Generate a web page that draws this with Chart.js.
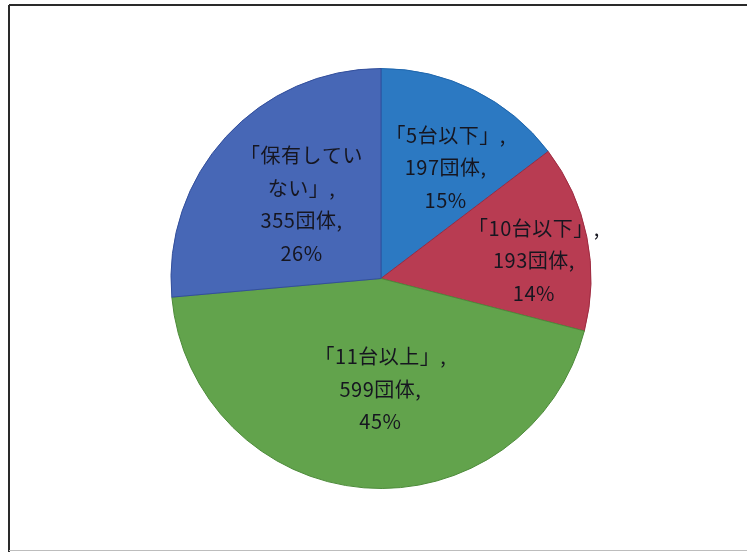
<!DOCTYPE html>
<html lang="ja">
<head>
<meta charset="utf-8">
<title>保有台数別の団体数</title>
<script src="https://cdn.jsdelivr.net/npm/chart.js@4/dist/chart.umd.min.js"></script>
<style>
  html, body { margin: 0; padding: 0; background: #ffffff; }
  #wrap { width: 747px; height: 552px; }
</style>
</head>
<body>
<div id="wrap"><canvas id="pie" width="747" height="552"></canvas></div>
<script>
// Holdings categories (clockwise from 12 o'clock) and number of organisations
const categories = ['5台以下', '10台以下', '11台以上', '保有してい\nない'];
const counts = [197, 193, 599, 355];
const unit = '団体';

const sliceColors = ['#2c79c2', '#b83c52', '#62a34c', '#4767b6'];
const edgeColors = ['#1f66ad', '#9e2a40', '#4d8b3a', '#334f9c'];
// label block nudges relative to each slice's mid-radius point
const labelShift = [[18, -17], [50, 3], [8, 6], [-2, -3]];

const total = counts.reduce((a, b) => a + b, 0);

function labelLines(i) {
  const name = categories[i].split('\n');
  const lines = name.map((s, k) => (k === 0 ? '「' : '') + s);
  lines[lines.length - 1] += '」,';
  lines.push(counts[i] + unit + ',');
  lines.push(Math.round(counts[i] / total * 100) + '%');
  return lines;
}

const framePlugin = {
  id: 'frame',
  beforeDraw(chart) {
    const ctx = chart.ctx;
    ctx.save();
    ctx.fillStyle = '#ffffff';
    ctx.fillRect(0, 0, chart.width, chart.height);
    ctx.strokeStyle = '#2a2a2a';
    ctx.lineWidth = 2;
    ctx.beginPath();
    ctx.moveTo(9, 5); ctx.lineTo(chart.width, 5);
    ctx.moveTo(9, 5); ctx.lineTo(9, chart.height);
    ctx.stroke();
    ctx.strokeStyle = '#bdbdbd';
    ctx.lineWidth = 1;
    ctx.beginPath();
    ctx.moveTo(9, 550.5); ctx.lineTo(chart.width, 550.5);
    ctx.stroke();
    ctx.restore();
  }
};

const sliceLabelPlugin = {
  id: 'sliceLabels',
  afterDatasetsDraw(chart) {
    const ctx = chart.ctx;
    const meta = chart.getDatasetMeta(0);
    ctx.save();
    ctx.font = '20px "Noto Sans CJK JP", "Noto Sans", sans-serif';
    ctx.letterSpacing = '0.5px';
    ctx.fillStyle = '#161620';
    ctx.textAlign = 'center';
    ctx.textBaseline = 'middle';
    const lh = 32.5;
    meta.data.forEach((arc, i) => {
      const p = arc.tooltipPosition();
      const lines = labelLines(i);
      const cx = p.x + labelShift[i][0];
      const cy = p.y + labelShift[i][1];
      const top = cy - (lines.length - 1) * lh / 2;
      lines.forEach((t, k) => ctx.fillText(t, cx, top + k * lh));
    });
    ctx.restore();
  }
};

new Chart(document.getElementById('pie'), {
  type: 'pie',
  data: {
    labels: categories.map(c => c.replace('\n', '')),
    datasets: [{
      data: counts,
      backgroundColor: sliceColors,
      borderColor: edgeColors,
      borderWidth: 1
    }]
  },
  options: {
    responsive: false,
    animation: false,
    radius: 210,
    layout: { padding: { left: 15, right: 0, top: 5, bottom: 0 } },
    plugins: {
      legend: { display: false },
      tooltip: { enabled: false }
    }
  },
  plugins: [framePlugin, sliceLabelPlugin]
});
</script>
</body>
</html>
